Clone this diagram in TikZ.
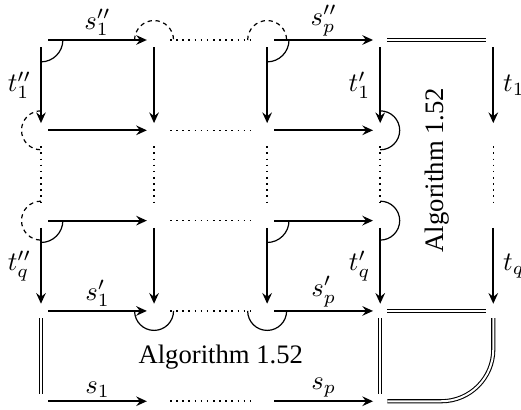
\documentclass[tikz,border=0pt]{standalone}
\usepackage{fontspec}
\setmainfont{Liberation Serif}
\usetikzlibrary{arrows.meta}

\tikzset{
  pt/.style={inner sep=2.7pt,outer sep=0pt},
  map/.style={line width=0.75pt,-{Stealth[length=4pt,width=3.6pt,inset=1.4pt]}},
  eq/.style={double,double distance=0.75pt,line width=0.4pt},
  dots/.style={line width=0.6pt,dash pattern=on 0.6pt off 1.7pt,shorten <=3.3pt,shorten >=3.3pt},
  cell/.style={line width=0.45pt},
  hole/.style={line width=0.45pt,dash pattern=on 1.6pt off 1.4pt},
  up/.style={above,inner sep=1.2pt}
}

\begin{document}
\begin{tikzpicture}[x=1.49cm,y=1.19cm,line join=round]
  \useasboundingbox (-0.54cm,0.527cm) rectangle (6.325cm,-4.863cm);
  \foreach \i in {0,...,4} \foreach \j in {0,...,4} \node[pt] (n\i\j) at (\i,-\j) {};
  % rows
  \foreach \j in {0,...,4} {
    \draw[dots] (n1\j) -- (n2\j);
  }
  \foreach \j in {1,2} {
    \draw[map] (n0\j) -- (n1\j); \draw[map] (n2\j) -- (n3\j);
  }
  \draw[map] (n00) -- node[up] {$s''_1$} (n10);
  \draw[map] (n20) -- node[up] {$s''_p$} (n30);
  \draw[map] (n03) -- node[up] {$s'_1$} (n13);
  \draw[map] (n23) -- node[up] {$s'_p$} (n33);
  \draw[map] (n04) -- node[up] {$s_1$} (n14);
  \draw[map] (n24) -- node[up] {$s_p$} (n34);
  \draw[eq] (n30) -- (n40); \draw[eq] (n33) -- (n43);
  % columns
  \foreach \i in {0,...,4} {
    \draw[dots] (n\i1) -- (n\i2);
  }
  \foreach \i in {1,2} {
    \draw[map] (n\i0) -- (n\i1); \draw[map] (n\i2) -- (n\i3);
  }
  \draw[map] (n00) -- node[left] {$t''_1$} (n01);
  \draw[map] (n02) -- node[left] {$t''_q$} (n03);
  \draw[map] (n30) -- node[left] {$t'_1$} (n31);
  \draw[map] (n32) -- node[left] {$t'_q$} (n33);
  \draw[map] (n40) -- node[right] {$t_1$} (n41);
  \draw[map] (n42) -- node[right] {$t_q$} (n43);
  \draw[eq] (n03) -- (n04); \draw[eq] (n33) -- (n34);
  \draw[eq,rounded corners=19.5pt] (n43.south) |- (n34.east);
  % cells
  \foreach \c in {n00,n20,n02,n22}
    \draw[cell] (\c.center) ++(8.2pt,0) arc[start angle=0,end angle=-90,radius=8.2pt];
  \foreach \c in {n10,n20}
    \draw[hole] (\c.center) ++(-7.3pt,0) arc[start angle=180,end angle=0,radius=7.3pt];
  \foreach \c in {n01,n02}
    \draw[hole] (\c.center) ++(0,7.3pt) arc[start angle=90,end angle=270,radius=7.3pt];
  \foreach \c in {n31,n32}
    \draw[cell] (\c.center) ++(0,7.3pt) arc[start angle=90,end angle=-90,radius=7.3pt];
  \foreach \c in {n13,n23}
    \draw[cell] (\c.center) ++(-7.3pt,0) arc[start angle=180,end angle=360,radius=7.3pt];
  \node (alg) at (1.59,-3.51) {Algorithm 1.52};
  \node[rotate=90] (algv) at (3.5,-1.44) {Algorithm 1.52};
\end{tikzpicture}
\end{document}
